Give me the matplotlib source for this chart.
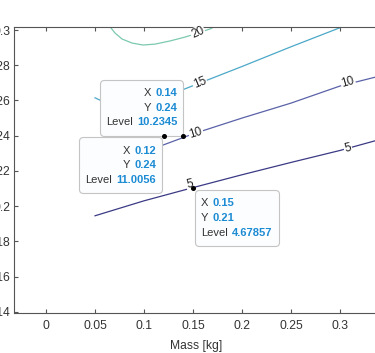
#!/usr/bin/env python3
"""Contour lines of a level field over mass, with three MATLAB-style data tips."""

import matplotlib
matplotlib.use("Agg")
import matplotlib.pyplot as plt
from matplotlib.offsetbox import AnnotationBbox, DrawingArea, HPacker, TextArea, VPacker

plt.rcParams["font.family"] = ["Liberation Sans", "DejaVu Sans"]

# contour lines (mass [kg], y)
lvl5_x = [0.05, 0.10, 0.15, 0.20, 0.25, 0.30, 0.345]
lvl5_y = [0.1945, 0.2030, 0.2105, 0.2178, 0.2248, 0.2316, 0.2385]

lvl10_x = [0.05, 0.10, 0.12, 0.15, 0.20, 0.25, 0.30, 0.345]
lvl10_y = [0.2210, 0.2310, 0.2348, 0.2410, 0.2500, 0.2585, 0.2682, 0.2745]

lvl15_x = [0.05, 0.055, 0.07, 0.09, 0.11, 0.13, 0.15, 0.20, 0.25, 0.31]
lvl15_y = [0.2615, 0.2602, 0.2585, 0.2585, 0.2610, 0.2640, 0.2684, 0.2793, 0.2905, 0.3035]

lvl20_x = [0.062, 0.0653, 0.0704, 0.0776, 0.0878, 0.099, 0.1112, 0.1265, 0.1418, 0.155, 0.1673, 0.176]
lvl20_y = [0.3040, 0.3019, 0.2983, 0.2949, 0.2926, 0.2915, 0.2920, 0.2938, 0.2960, 0.2983, 0.3006, 0.3030]

levels = [5, 10, 15, 20]
level_colors = ["#3b3a85", "#5a62a8", "#4ca8c8", "#7cc9b0"]

# inline contour labels: text, x, y, screen angle
clabel_text = ["5", "5", "10", "10", "15", "20"]
clabel_x = [0.147, 0.308, 0.153, 0.308, 0.157, 0.155]
clabel_y = [0.2125, 0.2330, 0.2415, 0.2705, 0.2699, 0.2983]
clabel_rot = [13, 14, 17, 16, 22, 24]

# data tips
tip_x = [0.14, 0.12, 0.15]
tip_y = [0.24, 0.24, 0.21]
tip_level = ["10.2345", "11.0056", "4.67857"]

xticks = [0, 0.05, 0.1, 0.15, 0.2, 0.25, 0.3]
xtick_labels = ["0", "0.05", "0.1", "0.15", "0.2", "0.25", "0.3"]
yticks = [0.14, 0.16, 0.18, 0.2, 0.22, 0.24, 0.26, 0.28, 0.3]
ytick_labels = ["0.14", "0.16", "0.18", "0.2", "0.22", "0.24", "0.26", "0.28", "0.3"]

AXIS_COLOR = "#555555"
TEXT_COLOR = "#333333"
VALUE_COLOR = "#1b8bd3"


def tip_box(ax, x, y, level, align, offset, box_align):
    rows = []
    for name, val in [("X", f"{x:g}"), ("Y", f"{y:g}"), ("Level", level)]:
        lab = TextArea(name, textprops=dict(color=TEXT_COLOR, fontsize=8))
        num = TextArea(val, textprops=dict(color=VALUE_COLOR, fontsize=8, fontweight="bold"))
        rows.append(HPacker(children=[lab, num], pad=0, sep=3, align="baseline"))
    pack = VPacker(children=rows, pad=0, sep=3.3, align=align)
    # extra vertical room above and below the rows
    pack = VPacker(children=[DrawingArea(1, 1.7), pack, DrawingArea(1, 1.7)],
                   pad=0, sep=0, align=align)
    ab = AnnotationBbox(
        pack, (x, y), xybox=offset, xycoords="data", boxcoords="offset pixels",
        box_alignment=box_align, frameon=True, pad=0.55, fontsize=8,
        bboxprops=dict(boxstyle="round,pad=0.55,rounding_size=0.35",
                       fc="#fcfdff", ec="#c4c4c4", lw=0.8),
        zorder=6,
    )
    ax.add_artist(ab)


def main() -> None:
    fig = plt.figure(figsize=(3.75, 3.53), dpi=100)
    ax = fig.add_axes([13.7 / 375, 39.7 / 353, 0.9747, 286.6 / 353])

    lines = [(lvl5_x, lvl5_y), (lvl10_x, lvl10_y), (lvl15_x, lvl15_y), (lvl20_x, lvl20_y)]
    for (lx, ly), c in zip(lines, level_colors):
        ax.plot(lx, ly, color=c, lw=0.9, zorder=2)

    for t, x, y, r in zip(clabel_text, clabel_x, clabel_y, clabel_rot):
        ax.text(x, y, t, rotation=r, ha="center", va="center", fontsize=8.5,
                color="#222222", rotation_mode="anchor", zorder=3,
                bbox=dict(fc="white", ec="none", pad=0.6))

    ax.set_xlim(-0.033, 0.34)
    ax.set_ylim(0.1391, 0.3019)

    tip_box(ax, tip_x[0], tip_y[0], tip_level[0], "right", (-6, 6), (1, 0))
    tip_box(ax, tip_x[1], tip_y[1], tip_level[1], "right", (-7.5, -7.5), (1, 1))
    tip_box(ax, tip_x[2], tip_y[2], tip_level[2], "left", (8, -7.5), (0, 1))

    ax.plot(tip_x, tip_y, "o", color="black", ms=2.6, zorder=7, clip_on=False)

    ax.set_xticks(xticks)
    ax.set_xticklabels(xtick_labels)
    ax.set_yticks(yticks)
    ax.set_yticklabels(ytick_labels)
    ax.tick_params(direction="in", length=3, width=0.8, color=AXIS_COLOR,
                   labelcolor=TEXT_COLOR, labelsize=8.7, top=True, right=True)
    ax.tick_params(axis="x", pad=5)
    ax.tick_params(axis="y", pad=2.5)
    for s in ax.spines.values():
        s.set_color(AXIS_COLOR)
        s.set_linewidth(0.8)

    ax.set_xlabel("Mass [kg]", fontsize=8.7, color=TEXT_COLOR, labelpad=5.5)

    fig.savefig("out.png", dpi=100)
    plt.close(fig)


if __name__ == "__main__":
    main()
